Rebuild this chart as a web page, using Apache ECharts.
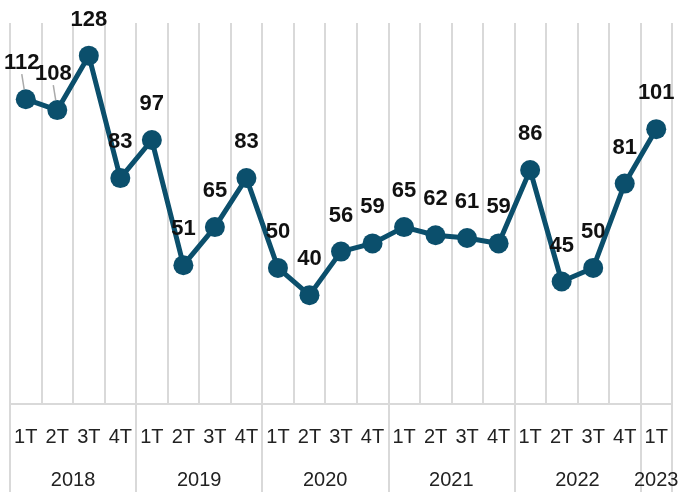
<!DOCTYPE html>
<html>
<head>
<meta charset="utf-8">
<style>
  html, body { margin: 0; padding: 0; background: #fff; }
  #chart { width: 687px; height: 492px; }
</style>
<script src="https://cdn.jsdelivr.net/npm/echarts@6/dist/echarts.min.js"></script>
</head>
<body>
<div id="chart"></div>
<script>
const quarters = ['1T', '2T', '3T', '4T', '1T', '2T', '3T', '4T', '1T', '2T', '3T', '4T',
  '1T', '2T', '3T', '4T', '1T', '2T', '3T', '4T', '1T'];
const values = [112, 108, 128, 83, 97, 51, 65, 83, 50, 40, 56, 59, 65, 62, 61, 59, 86, 45, 50, 81, 101];
const years = ['2018', '2019', '2020', '2021', '2022', '2023'];
const quartersPerYear = [4, 4, 4, 4, 4, 1];
// points whose label is nudged aside with a small leader line
const leaderPoints = [0, 1];

const lineColor = '#0b4f6c';
const gridColor = '#d9d9d9';

// year boundaries and centres on a 0..21 value scale
const yearEdges = [0];
const yearCentres = [];
quartersPerYear.forEach((n, i) => {
  const start = yearEdges[i];
  yearEdges.push(start + n);
  yearCentres.push(start + n / 2);
});

const chart = echarts.init(document.getElementById('chart'));

chart.setOption({
  animation: false,
  grid: { left: 10, right: 15, top: 23, bottom: 88 },
  xAxis: [
    {
      type: 'category',
      data: quarters,
      boundaryGap: true,
      axisLine: { lineStyle: { color: gridColor, width: 2 } },
      axisTick: { length: 46, lineStyle: { color: gridColor, width: 2 } },
      axisLabel: {
        color: '#222',
        fontFamily: 'Liberation Sans',
        fontSize: 20,
        margin: 23,
        interval: 0,
      },
      splitLine: { show: true, lineStyle: { color: gridColor, width: 2 } },
    },
    {
      type: 'value',
      min: 0,
      max: quarters.length,
      position: 'bottom',
      axisLine: { show: false },
      splitLine: { show: false },
      axisTick: {
        show: true,
        length: 92,
        customValues: yearEdges,
        lineStyle: { color: gridColor, width: 2 },
      },
      axisLabel: {
        customValues: yearCentres,
        color: '#222',
        fontFamily: 'Liberation Sans',
        fontSize: 20,
        margin: 66,
        formatter: (v) => years[yearCentres.indexOf(v)] || '',
      },
    },
  ],
  yAxis: {
    type: 'value',
    min: 0,
    max: 140,
    show: false,
    splitLine: { show: false },
  },
  series: [
    {
      type: 'line',
      data: values.map((v, i) =>
        leaderPoints.includes(i) ? { value: v, labelLine: { show: true } } : v
      ),
      xAxisIndex: 0,
      symbol: 'circle',
      symbolSize: 20,
      lineStyle: { width: 5, color: lineColor },
      itemStyle: { color: lineColor },
      label: {
        show: true,
        position: 'top',
        distance: 15,
        color: '#111',
        fontFamily: 'Liberation Sans',
        fontWeight: 'bold',
        fontSize: 22,
      },
      labelLayout: (p) => (leaderPoints.includes(p.dataIndex) ? { dx: -4 } : {}),
      labelLine: { show: false, length2: 0, lineStyle: { color: '#aaa', width: 1.5 } },
    },
  ],
});
</script>
</body>
</html>
